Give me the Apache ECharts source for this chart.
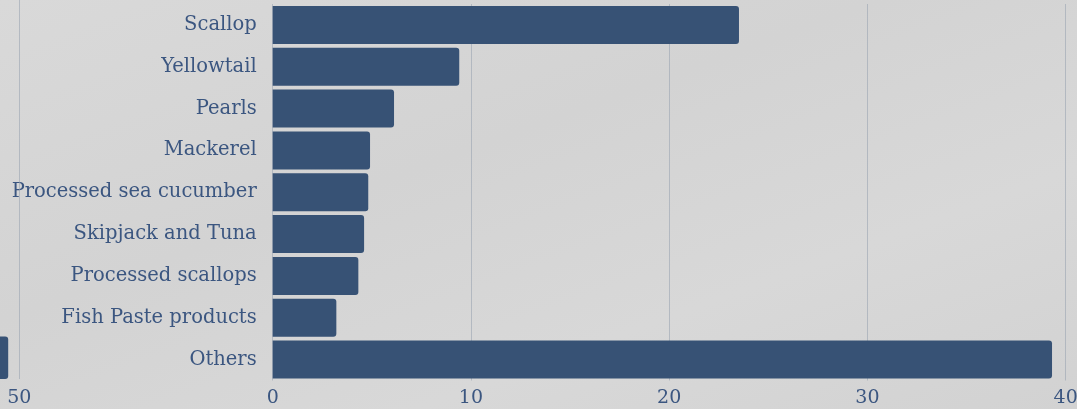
<!DOCTYPE html>
<html>
<head>
<meta charset="utf-8">
<script src="https://cdn.jsdelivr.net/npm/echarts@6/dist/echarts.min.js"></script>
<style>
html,body{margin:0;padding:0;background:#d7d7d7;}
#c{width:1077px;height:409px;background:linear-gradient(160deg,#d9d9d9 0%,#d3d3d3 40%,#d8d8d8 70%,#d2d2d2 100%);}
</style>
</head>
<body>
<div id="c"></div>
<script>
const categories = ["Scallop","Yellowtail","Pearls","Mackerel","Processed sea cucumber","Skipjack and Tuna","Processed scallops","Fish Paste products","Others"];
const values = [23.52, 9.41, 6.12, 4.91, 4.82, 4.61, 4.32, 3.21, 39.31];
const xTicks = [0, 10, 20, 30, 40];
// partially visible neighbouring panel on the left (only the end of its last bar shows)
const leftValues = [null, null, null, null, null, null, null, null, 49.3];
const leftTicks = [50];

const FONT = "DejaVu Serif";
const TXT = "#3b5680";
const BAR = "#375275";
const GRID = "rgba(150,160,175,0.55)";

// left panel: same pixel scale as a 0-50 axis spanning 793px, only its right edge is in view
const leftPxPerUnit = 793 / 50;
const leftEdgeX = 19.3;
const leftMax = leftTicks[leftTicks.length - 1];
const leftMin = leftMax - leftEdgeX / leftPxPerUnit;

const chart = echarts.init(document.getElementById('c'), null, {renderer:'canvas'});
chart.setOption({
  animation:false,
  backgroundColor:'transparent',
  grid:[
    {left:272.7, right:1077-1065.7, top:4, bottom:28.5, containLabel:false, outerBoundsMode:'none'},
    {left:0, right:1077-leftEdgeX, top:0, bottom:30, containLabel:false, outerBoundsMode:'none'}
  ],
  xAxis:[
    {gridIndex:0, type:'value', min:xTicks[0], max:xTicks[xTicks.length-1], interval:xTicks[1]-xTicks[0],
     axisLine:{show:false}, axisTick:{show:false},
     splitLine:{show:true, lineStyle:{color:GRID, width:1}},
     axisLabel:{color:TXT, fontFamily:FONT, fontSize:19, margin:8}},
    {gridIndex:1, type:'value', min:leftMin, max:leftMax,
     axisLine:{show:false}, axisTick:{show:false},
     splitLine:{show:false},
     axisLabel:{show:true, customValues:leftTicks, color:TXT, fontFamily:FONT, fontSize:19, margin:10,
       formatter:function(v){ return leftTicks.indexOf(Math.round(v*1000)/1000) >= 0 ? String(Math.round(v)) : ''; }}}
  ],
  yAxis:[
    {gridIndex:0, type:'category', data:categories, inverse:true,
     axisLine:{show:false}, axisTick:{show:false}, splitLine:{show:false},
     axisLabel:{color:TXT, fontFamily:FONT, fontSize:19.5, margin:16}},
    {gridIndex:1, type:'category', data:categories, inverse:true, show:false}
  ],
  series:[
    {type:'bar', xAxisIndex:0, yAxisIndex:0, data:values, barCategoryGap:'9%',
     itemStyle:{color:BAR, borderRadius:[0,3,3,0]}},
    {type:'bar', xAxisIndex:1, yAxisIndex:1, data:leftValues, barWidth:43,
     itemStyle:{color:BAR, borderRadius:[0,3,3,0]},
     markLine:{silent:true, symbol:'none', label:{show:false},
       lineStyle:{color:GRID, width:1, type:'solid'},
       data:leftTicks.map(function(t){ return {xAxis:t}; })}}
  ]
});
</script>
</body>
</html>
